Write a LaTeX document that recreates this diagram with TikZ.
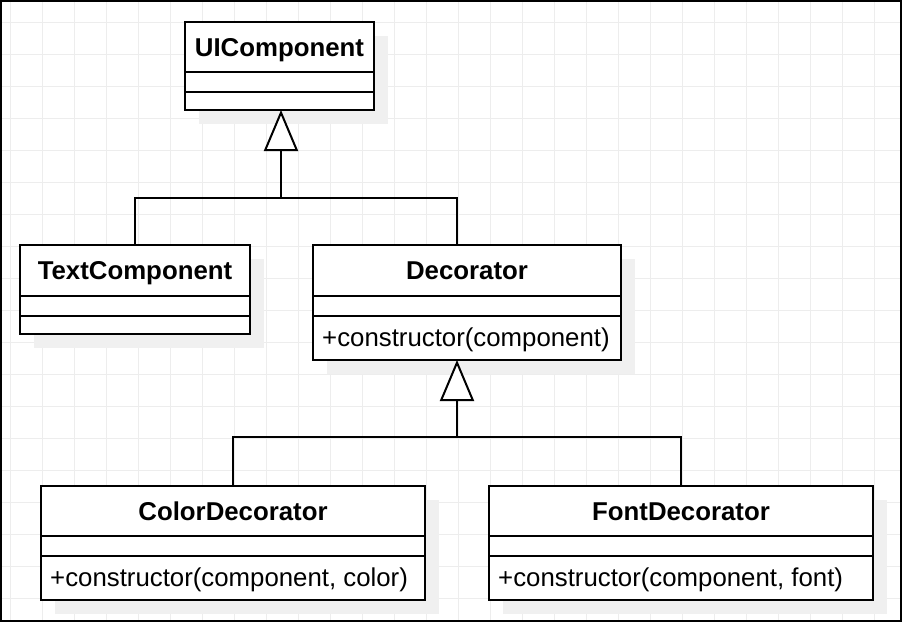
\documentclass[tikz,border=0pt]{standalone}
\usepackage{fontspec}
\setmainfont{Liberation Sans}
\usetikzlibrary{arrows.meta}
\begin{document}
\begin{tikzpicture}[x=1pt,y=-1pt,
  cls/.style={draw=black, line width=2pt, fill=white, rectangle, inner sep=0pt, outer sep=0pt, anchor=north west},
  shadowbox/.style={fill=black!6, draw=none},
  ctitle/.style={font=\fontsize{25.8}{30}\selectfont\bfseries, inner sep=0pt, anchor=base},
  cmeth/.style={font=\fontsize{25.8}{30}\selectfont, inner sep=0pt, anchor=base west},
  conn/.style={line width=2pt, draw=black},
  divider/.style={line width=2pt, draw=black},
  gen/.style={conn, -{Triangle[length=41pt,width=34pt,fill=white,line width=2pt]}},
  gridline/.style={draw=black!7, line width=1pt}
]
\useasboundingbox (0,0) rectangle (902,622);
\fill[white] (0,0) rectangle (902,622);
% grid
\foreach \x in {10,42,...,890} \draw[gridline] (\x,2) -- (\x,620);
\foreach \y in {22,54,...,614} \draw[gridline] (2,\y) -- (900,\y);
% border
\draw[line width=2pt] (1,1) rectangle (901,621);
% shadows
\fill[shadowbox] (199,36) rectangle (388,124);
\fill[shadowbox] (34,259) rectangle (264,348);
\fill[shadowbox] (327,259) rectangle (635,374);
\fill[shadowbox] (55,500) rectangle (439,614);
\fill[shadowbox] (503,500) rectangle (887,614);
% boxes
\node[cls, minimum width=189pt, minimum height=88pt] (ui) at (185,22) {};
\node[cls, minimum width=230pt, minimum height=89pt] (text) at (20,245) {};
\node[cls, minimum width=308pt, minimum height=115pt] (dec) at (313,245) {};
\node[cls, minimum width=384pt, minimum height=114pt] (color) at (41,486) {};
\node[cls, minimum width=384pt, minimum height=114pt] (font) at (489,486) {};
% dividers
\draw[divider] ([yshift=-50pt]ui.north west) -- ([yshift=-50pt]ui.north east);
\draw[divider] ([yshift=-70pt]ui.north west) -- ([yshift=-70pt]ui.north east);
\draw[divider] ([yshift=-51pt]text.north west) -- ([yshift=-51pt]text.north east);
\draw[divider] ([yshift=-71pt]text.north west) -- ([yshift=-71pt]text.north east);
\draw[divider] ([yshift=-51pt]dec.north west) -- ([yshift=-51pt]dec.north east);
\draw[divider] ([yshift=-71pt]dec.north west) -- ([yshift=-71pt]dec.north east);
\draw[divider] ([yshift=-50pt]color.north west) -- ([yshift=-50pt]color.north east);
\draw[divider] ([yshift=-70pt]color.north west) -- ([yshift=-70pt]color.north east);
\draw[divider] ([yshift=-50pt]font.north west) -- ([yshift=-50pt]font.north east);
\draw[divider] ([yshift=-70pt]font.north west) -- ([yshift=-70pt]font.north east);
% texts
\node[ctitle] (uit) at (279.5,56) {UIComponent};
\node[ctitle] (textt) at (135,279.5) {TextComponent};
\node[ctitle] (dect) at (467,279.5) {Decorator};
\node[cmeth] (decm) at (322,346) {+constructor(component)};
\node[ctitle] (colort) at (233,520) {ColorDecorator};
\node[cmeth] (colorm) at (50,586) {+constructor(component, color)};
\node[ctitle] (fontt) at (681,520) {FontDecorator};
\node[cmeth] (fontm) at (498,586) {+constructor(component, font)};
% connectors
\coordinate (j1) at (281,198);
\coordinate (j2) at (457,437);
\draw[conn] (text.north) |- (j1) -| ([xshift=144pt]dec.north west);
\draw[gen] (j1) -- (ui.south -| j1);
\draw[conn] (color.north) |- (j2) -| (font.north);
\draw[gen] (j2) -- ([xshift=144pt]dec.south west);
\end{tikzpicture}
\end{document}
